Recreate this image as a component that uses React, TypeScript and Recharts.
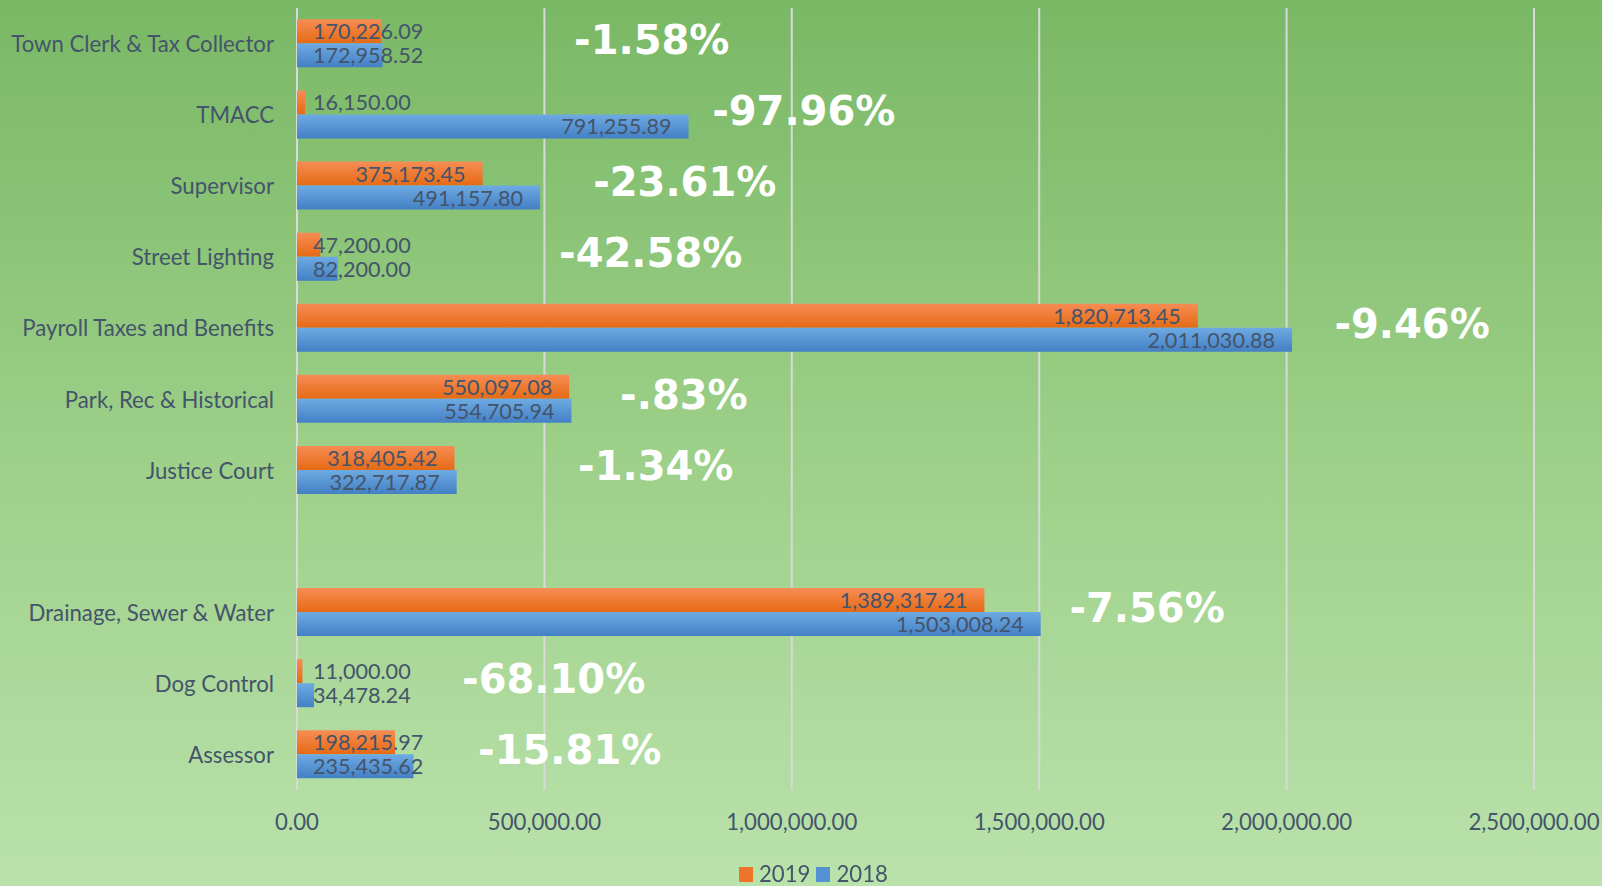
import React from 'react';
import {
  BarChart,
  Bar,
  XAxis,
  YAxis,
  CartesianGrid,
  Legend,
  LabelList,
  ReferenceDot,
} from 'recharts';

// categories from top to bottom (blank row between Justice Court and Drainage)
const departments = [
  'Town Clerk & Tax Collector',
  'TMACC',
  'Supervisor',
  'Street Lighting',
  'Payroll Taxes and Benefits',
  'Park, Rec & Historical',
  'Justice Court',
  ' ',
  'Drainage, Sewer & Water',
  'Dog Control',
  'Assessor',
];

const values2019 = [
  170226.09, 16150.0, 375173.45, 47200.0, 1820713.45, 550097.08, 318405.42, null,
  1389317.21, 11000.0, 198215.97,
];

const values2018 = [
  172958.52, 791255.89, 491157.8, 82200.0, 2011030.88, 554705.94, 322717.87, null,
  1503008.24, 34478.24, 235435.62,
];

// change labels, and where (in axis units) each one starts
const changeText = [
  '-1.58%', '-97.96%', '-23.61%', '-42.58%', '-9.46%', '-.83%', '-1.34%', '',
  '-7.56%', '-68.10%', '-15.81%',
];
const changeAt = [
  560000, 839000, 598500, 529700, 2096600, 653000, 568000, 0,
  1561000, 333600, 366000,
];

const xTicks = [0, 500000, 1000000, 1500000, 2000000, 2500000];

const TEXT = '#44546a';
const LABEL_FONT = 'Lato, "Open Sans", sans-serif';
const VALUE_SIZE = 21.6;
const AXIS_SIZE = 22.2;

const data = departments.map((name, i) => ({
  name,
  y2019: values2019[i],
  y2018: values2018[i],
}));

const fmt = (v: number) =>
  v.toLocaleString('en-US', { minimumFractionDigits: 2, maximumFractionDigits: 2 });

let ctx: CanvasRenderingContext2D | null = null;
function textWidth(s: string) {
  if (!ctx) ctx = document.createElement('canvas').getContext('2d');
  if (!ctx) return s.length * 10;
  ctx.font = `${VALUE_SIZE}px ${LABEL_FONT}`;
  return ctx.measureText(s).width;
}

// excel style "inside end" label, pushed right when bar is too short
function ValueLabel(props: any) {
  const { x, y, width, height, value } = props;
  if (value == null) return null;
  const s = fmt(value);
  const w = textWidth(s);
  const tx = Math.max(x + 16, x + width - 17 - w);
  return (
    <text
      x={tx}
      y={y + height / 2}
      dominantBaseline="central"
      fill={TEXT}
      fontSize={VALUE_SIZE}
      fontFamily={LABEL_FONT}
    >
      {s}
    </text>
  );
}

function CategoryTick(props: any) {
  const { x, y, payload } = props;
  return (
    <text
      x={x - 23}
      y={y}
      textAnchor="end"
      dominantBaseline="central"
      fill={TEXT}
      fontSize={AXIS_SIZE}
      fontFamily={LABEL_FONT}
    >
      {payload.value}
    </text>
  );
}

function ValueTick(props: any) {
  const { x, y, payload } = props;
  return (
    <text
      x={x}
      y={y + 31}
      textAnchor="middle"
      dominantBaseline="central"
      fill={TEXT}
      fontSize={AXIS_SIZE}
      fontFamily={LABEL_FONT}
    >
      {fmt(payload.value)}
    </text>
  );
}

function LegendBox() {
  const item = (color: string, label: string) => (
    <div style={{ display: 'flex', alignItems: 'center', marginRight: 6 }}>
      <div style={{ width: 14, height: 15, background: color, marginRight: 6 }} />
      <span style={{ color: TEXT, fontSize: AXIS_SIZE, fontFamily: LABEL_FONT, lineHeight: '22px' }}>
        {label}
      </span>
    </div>
  );
  return (
    <div style={{ display: 'flex', paddingLeft: 739, paddingTop: 16 }}>
      {item('#ed7428', '2019')}
      {item('#5592d4', '2018')}
    </div>
  );
}

export default function App() {
  return (
    <div
      style={{
        position: 'fixed',
        left: 0,
        top: 0,
        width: 1602,
        height: 886,
        background: 'linear-gradient(to bottom, #79b865 0%, #9ccf88 50%, #bae2ab 100%)',
      }}
    >
      <BarChart
        width={1602}
        height={886}
        data={data}
        layout="vertical"
        margin={{ top: 8, right: 68, bottom: 0, left: 0 }}
        barCategoryGap="16%"
        barGap={0}
      >
        <defs>
          <linearGradient id="g2019" x1="0" y1="0" x2="0" y2="1">
            <stop offset="0%" stopColor="#f68d55" />
            <stop offset="100%" stopColor="#e66a14" />
          </linearGradient>
          <linearGradient id="g2018" x1="0" y1="0" x2="0" y2="1">
            <stop offset="0%" stopColor="#6eaae2" />
            <stop offset="100%" stopColor="#4380c5" />
          </linearGradient>
        </defs>
        <CartesianGrid horizontal={false} stroke="#d9d9d9" strokeWidth={2} />
        <XAxis
          type="number"
          domain={[0, 2500000]}
          ticks={xTicks}
          axisLine={false}
          tickLine={false}
          tickSize={0}
          tickMargin={0}
          height={57}
          tick={<ValueTick />}
          interval={0}
        />
        <YAxis
          type="category"
          dataKey="name"
          width={297}
          axisLine={false}
          tickLine={false}
          tickSize={0}
          tickMargin={0}
          tick={<CategoryTick />}
          interval={0}
        />
        <Legend verticalAlign="bottom" height={39} content={<LegendBox />} />
        <Bar dataKey="y2019" name="2019" fill="url(#g2019)" isAnimationActive={false}>
          <LabelList dataKey="y2019" content={<ValueLabel />} />
        </Bar>
        <Bar dataKey="y2018" name="2018" fill="url(#g2018)" isAnimationActive={false}>
          <LabelList dataKey="y2018" content={<ValueLabel />} />
        </Bar>
        {departments.map((name, i) =>
          changeText[i] ? (
            <ReferenceDot
              key={name}
              x={changeAt[i]}
              y={name}
              r={0}
              ifOverflow="visible"
              shape={(p: any) => (
                <text
                  x={p.cx}
                  y={p.cy - 4}
                  dominantBaseline="central"
                  fill="#ffffff"
                  fontSize={40}
                  fontWeight="bold"
                  fontFamily='"DejaVu Sans", Verdana, sans-serif'
                >
                  {changeText[i]}
                </text>
              )}
            />
          ) : null
        )}
      </BarChart>
    </div>
  );
}
